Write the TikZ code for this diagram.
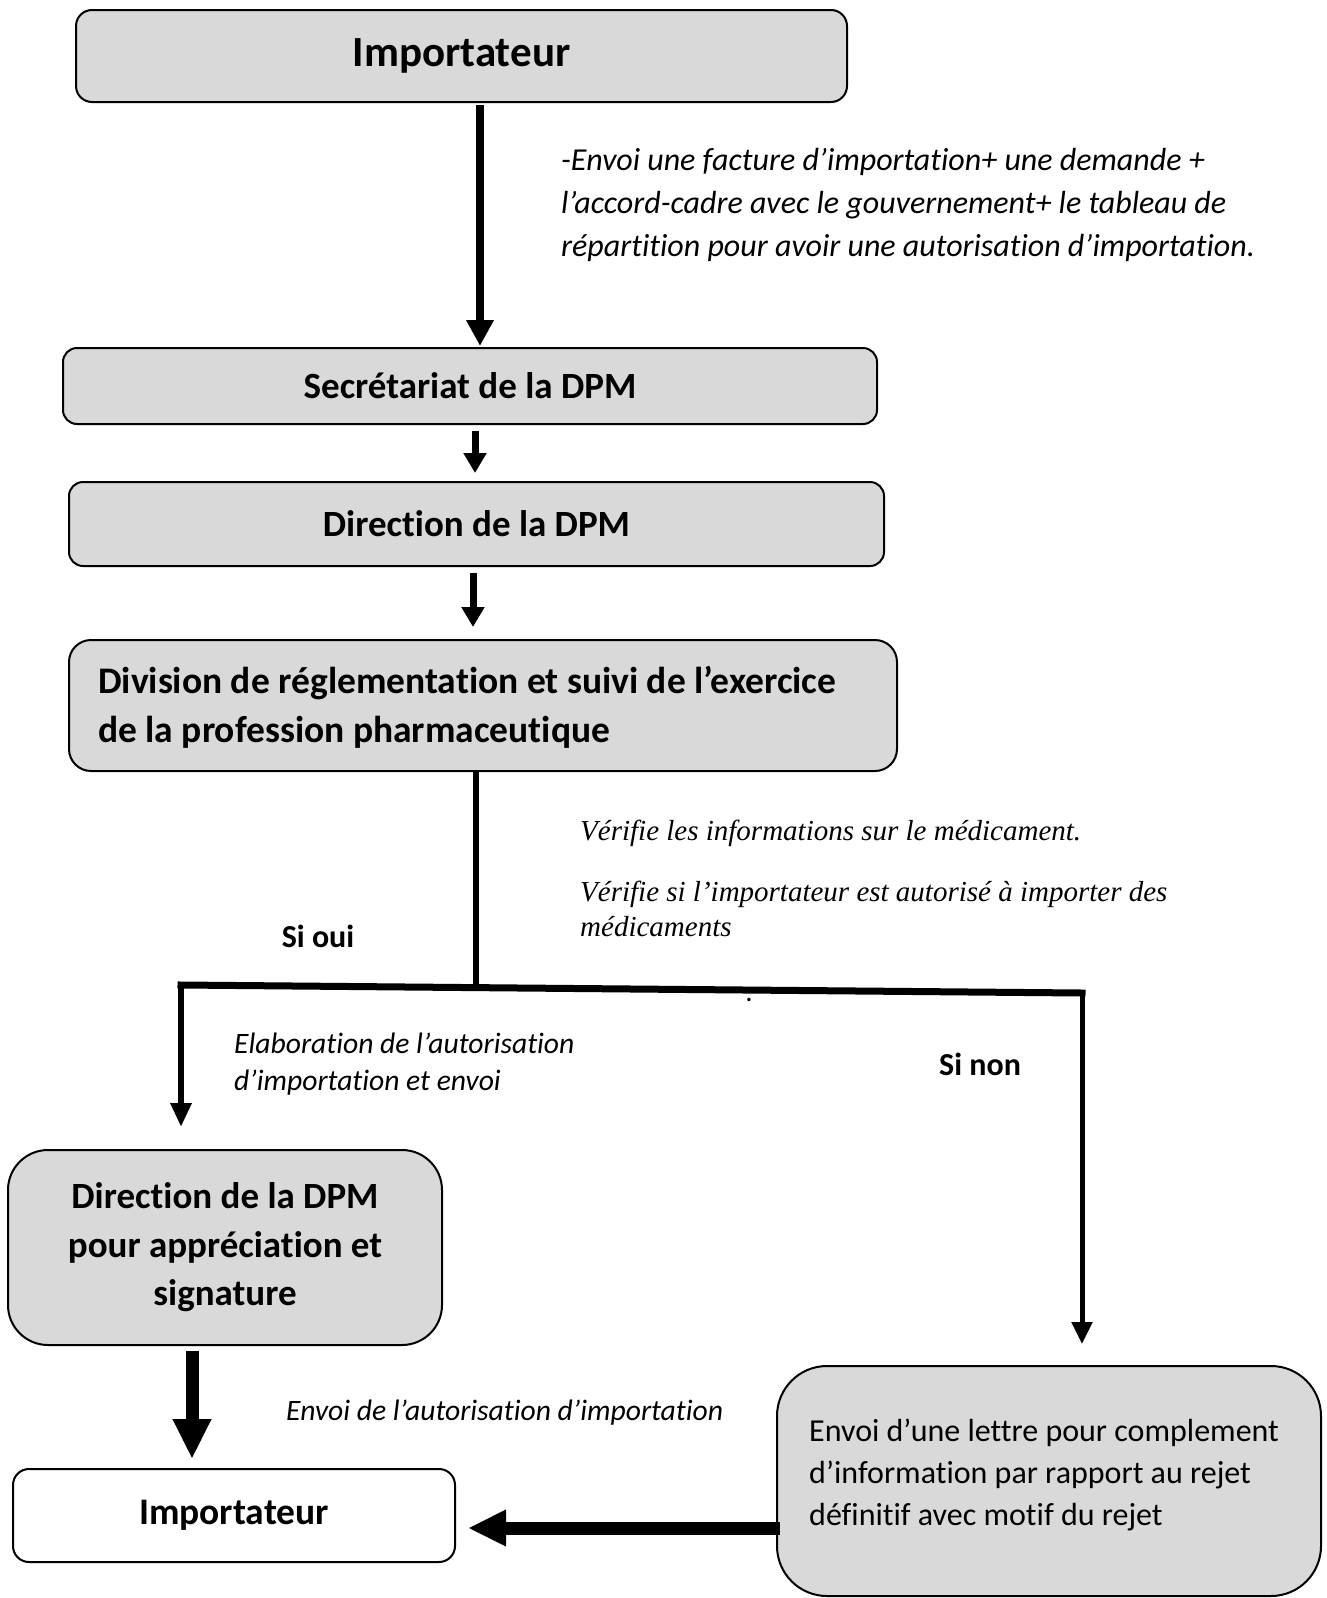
\documentclass[tikz,border=0pt]{standalone}
\usepackage{fontspec}
\setmainfont{Carlito}[Ligatures={NoCommon}]
\newfontfamily\tnr{Liberation Serif}
\usetikzlibrary{arrows.meta}
\definecolor{boxgray}{HTML}{D9D9D9}
\begin{document}
\begin{tikzpicture}[x=1pt,y=-1pt,
  box/.style={draw=black, line width=2pt, fill=boxgray, rounded corners=#1, inner sep=0pt, align=center,
    font=\fontsize{37}{48.5}\selectfont\bfseries},
  box/.default=14pt,
  note/.style={inner sep=0pt, align=left, font=\fontsize{32}{43}\selectfont\itshape},
  tnote/.style={inner sep=0pt, align=left, font=\tnr\itshape\fontsize{29}{35}\selectfont},
  lab/.style={inner sep=0pt, font=\fontsize{32}{36}\selectfont\bfseries},
  conn/.style={line width=#1, draw=black},
]
\useasboundingbox (0,0) rectangle (1327,1598);

% boxes
\node[box=16pt, minimum width=771pt, minimum height=92pt, font=\fontsize{43}{50}\selectfont\bfseries] (imp1) at (461.5,56) {Importateur};
\node[box=14pt, minimum width=814pt, minimum height=76pt] (sec) at (470,386) {Secrétariat de la DPM};
\node[box=14pt, minimum width=815pt, minimum height=84pt] (dir) at (476.5,524) {Direction de la DPM};
\node[box=22pt, minimum width=828pt, minimum height=131pt] (div) at (483,705.5) {};
\node[inner sep=0pt, anchor=west, align=left, font=\fontsize{37.5}{49}\selectfont\bfseries] (divt) at (98,707) {Division de réglementation et suivi de l’exercice\\ de la profession pharmaceutique};
\node[box=40pt, minimum width=434pt, minimum height=195pt] (dirsig) at (225,1247.5) {Direction de la DPM\\ pour appréciation et\\ signature};
\node[box=16pt, fill=white, minimum width=442pt, minimum height=93pt, font=\fontsize{37.5}{45}\selectfont\bfseries] (imp2) at (234,1515.5) {Importateur};
\node[box=50pt, minimum width=544pt, minimum height=230pt] (rej) at (1049,1481) {};
\node[inner sep=0pt, anchor=west, align=left, font=\fontsize{32}{42}\selectfont] (rejt) at (809,1475) {Envoi d’une lettre pour complement\\ d’information par rapport au rejet\\ définitif avec motif du rejet};

% notes
\node[note, anchor=west] (n1) at (561,205) {-Envoi une facture d’importation+ une demande +\\ l’accord-cadre avec le gouvernement+ le tableau de\\ répartition pour avoir une autorisation d’importation.};
\node[tnote, anchor=west] (v1) at (580,833) {Vérifie les informations sur le médicament.};
\node[tnote, anchor=west] (v2) at (580,908.5) {Vérifie si l’importateur est autorisé à importer des\\ médicaments};
\node[lab] (oui) at (318,936) {Si oui};
\node[lab] (non) at (980,1064) {Si non};
\node[note, anchor=west, font=\fontsize{29.6}{37}\selectfont\itshape] (n2) at (234,1064) {Elaboration de l’autorisation\\ d’importation et envoi};
\node[note, anchor=west, font=\fontsize{29.6}{37}\selectfont\itshape] (n3) at (286,1413) {Envoi de l’autorisation d’importation};
\node[inner sep=0pt, font=\fontsize{29}{35}\selectfont] (dot) at (749,1000) {.};

% coordinates
\coordinate (a1) at (480,0);
\coordinate (a2) at (475,0);
\coordinate (a3) at (473,0);
\coordinate (jl) at (181,985);
\coordinate (jr) at (1082,993);
\coordinate (jm) at (476,987.6);
\coordinate (a5) at (192,0);
\coordinate (a7) at (0,1528);

% connectors
\draw[conn=8pt, -{Triangle[length=26pt,width=26pt]}, shorten <=2pt, shorten >=1pt] (imp1.south -| a1) -- (sec.north -| a1);
\draw[conn=7pt, -{Triangle[length=20pt,width=22pt]}, shorten <=6pt, shorten >=8pt] (sec.south -| a2) -- (dir.north -| a2);
\draw[conn=7pt, -{Triangle[length=20pt,width=22pt]}, shorten <=6pt, shorten >=12pt] (dir.south -| a3) -- (div.north -| a3);
\draw[conn=6pt] (div.south -| jm) -- (jm);
\draw[conn=7pt, line cap=rect] (jl) -- (jr);
\draw[conn=6pt, -{Triangle[length=24pt,width=20pt]}, shorten >=22pt] (jl) -- (jl |- dirsig.north);
\draw[conn=5pt, -{Triangle[length=22pt,width=20pt]}, shorten >=21pt] (jr) -- (jr |- rej.north);
\draw[conn=13pt, -{Triangle[length=40pt,width=36pt]}, shorten <=5pt, shorten >=9pt] (dirsig.south -| a5) -- (imp2.north -| a5);
\draw[conn=13pt, -{Triangle[length=38pt,width=34pt]}, shorten <=-4pt, shorten >=12pt] (rej.west |- a7) -- (imp2.east |- a7);
\end{tikzpicture}
\end{document}
